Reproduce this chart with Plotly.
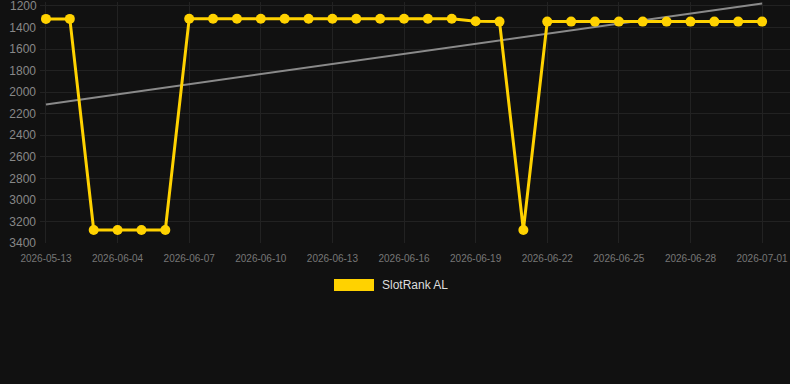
import numpy as np
import plotly.graph_objects as go

dates = ["2026-05-13", "2026-06-02", "2026-06-03", "2026-06-04", "2026-06-05", "2026-06-06",
         "2026-06-07", "2026-06-08", "2026-06-09", "2026-06-10", "2026-06-11", "2026-06-12",
         "2026-06-13", "2026-06-14", "2026-06-15", "2026-06-16", "2026-06-17", "2026-06-18",
         "2026-06-19", "2026-06-20", "2026-06-21", "2026-06-22", "2026-06-23", "2026-06-24",
         "2026-06-25", "2026-06-26", "2026-06-27", "2026-06-28", "2026-06-29", "2026-06-30",
         "2026-07-01"]
ranks = [1320, 1320, 3280, 3280, 3280, 3280,
         1318, 1318, 1318, 1318, 1318, 1318,
         1318, 1318, 1318, 1318, 1318, 1318,
         1342, 1345, 3280, 1345, 1345, 1345,
         1345, 1345, 1345, 1345, 1345, 1345,
         1345]
series_name = "SlotRank AL"
y_ticks = [1200, 1400, 1600, 1800, 2000, 2200, 2400, 2600, 2800, 3000, 3200, 3400]

idx = np.arange(len(dates))
slope, intercept = np.polyfit(idx, ranks, 1)
trend = slope * idx + intercept

gold = "#FFD200"
fig = go.Figure()
fig.add_trace(go.Scatter(x=[idx[0], idx[-1]], y=[trend[0], trend[-1]], mode="lines",
                         line=dict(color="#8a8a8a", width=2), showlegend=False, hoverinfo="skip"))
fig.add_trace(go.Scatter(x=idx, y=ranks, mode="lines+markers", name=series_name,
                         line=dict(color=gold, width=3), marker=dict(color=gold, size=10),
                         showlegend=False))

tick_idx = list(range(0, len(dates), 3))
y_text = ["" if i == 0 else str(v) for i, v in enumerate(y_ticks)]
fig.update_layout(
    width=790, height=384,
    margin=dict(l=40, r=0, t=2, b=141),
    paper_bgcolor="#111111", plot_bgcolor="#111111",
    font=dict(family="Liberation Sans, Arial, sans-serif"),
    xaxis=dict(range=[-0.25, 31.17], tickmode="array", tickvals=tick_idx,
               ticktext=[dates[i] for i in tick_idx], tickfont=dict(size=10, color="#777777"),
               showgrid=True, gridcolor="#222222", gridwidth=1, zeroline=False, showline=False,
               ticks="", ticklabelstandoff=8),
    yaxis=dict(range=[3400.5, 1163], tickmode="array", tickvals=y_ticks, ticktext=y_text,
               tickfont=dict(size=12, color="#888888"), showgrid=True, gridcolor="#222222",
               zeroline=False, showline=False, ticks="", ticklabelstandoff=3),
    shapes=[dict(type="rect", xref="paper", yref="paper", x0=294/750, x1=334/750,
                 y0=(243-291)/241, y1=(243-279)/241, fillcolor=gold, line=dict(width=0))],
    annotations=[dict(text=series_name, xref="paper", yref="paper", x=340/750, y=(243-285)/241,
                      xanchor="left", yanchor="middle", showarrow=False,
                      font=dict(size=12, color="#dddddd")),
                 dict(text=str(y_ticks[0]), xref="paper", yref="y", x=0, y=y_ticks[0],
                      xanchor="right", yanchor="middle", xshift=-1, showarrow=False,
                      font=dict(size=12, color="#888888"))],
)
fig.write_html("out.html")
